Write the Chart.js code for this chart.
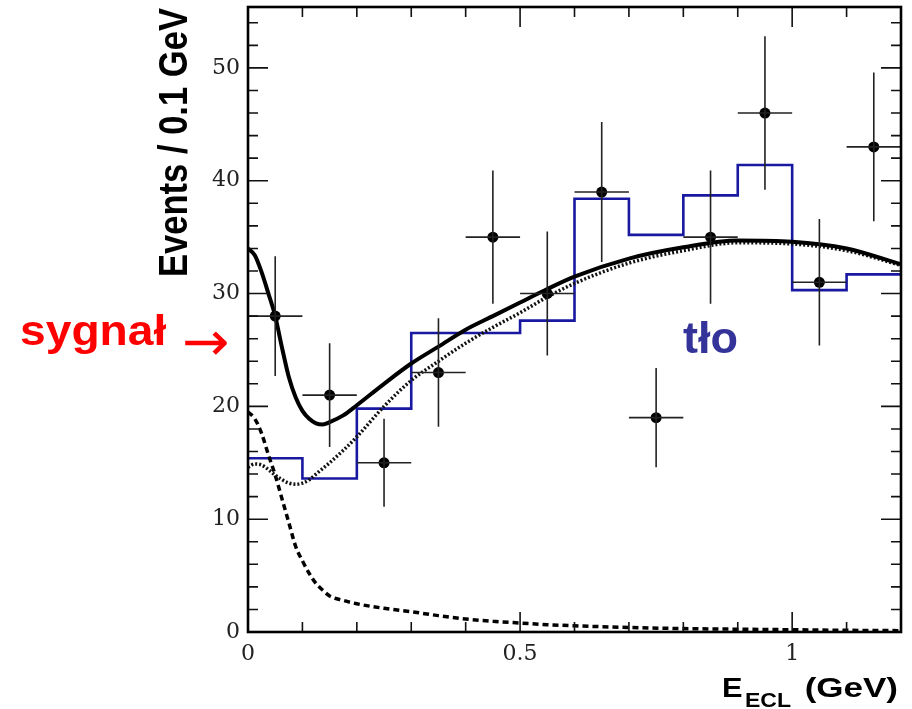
<!DOCTYPE html>
<html>
<head>
<meta charset="utf-8">
<script src="https://cdn.jsdelivr.net/npm/chart.js@4.4.1/dist/chart.umd.min.js"></script>
<style>
  html, body { margin: 0; padding: 0; background: #fff; }
</style>
</head>
<body>
<canvas id="chart" width="912" height="709"></canvas>
<script>
// DATA
const binEdges = [0, 0.1, 0.2, 0.3, 0.4, 0.5, 0.6, 0.7, 0.8, 0.9, 1.0, 1.1, 1.2];
const mcHist   = [15.4, 13.6, 19.8, 26.5, 26.5, 27.6, 38.4, 35.2, 38.7, 41.4, 30.3, 31.7];

const dataX   = [0.05, 0.15, 0.25, 0.35, 0.45, 0.55, 0.65, 0.75, 0.85, 0.95, 1.05, 1.15];
const dataY   = [28, 21, 15, 23, 35, 30, 39, 19, 35, 46, 31, 43];
const dataErr = [5.3, 4.6, 3.9, 4.8, 5.9, 5.5, 6.2, 4.4, 5.9, 6.8, 5.6, 6.6];
const binHalf = 0.05;

const curveX   = [0, 0.0125, 0.025, 0.0375, 0.05, 0.0625, 0.075, 0.0875, 0.1, 0.1125, 0.125, 0.1375,
                  0.15, 0.175, 0.2, 0.25, 0.3, 0.35, 0.4, 0.45, 0.5, 0.55, 0.6, 0.7, 0.8, 0.9, 1.0, 1.1, 1.2];
const totalFit = [34.0, 33.4, 31.9, 30.0, 28.0, 25.2, 22.6, 20.8, 19.6, 18.9, 18.5, 18.4,
                  18.6, 19.2, 20.1, 22.0, 23.8, 25.3, 26.8, 28.0, 29.2, 30.4, 31.5, 33.1, 34.1, 34.7, 34.6, 34.0, 32.6];
const bkgFit   = [14.6, 14.9, 14.8, 14.4, 13.9, 13.5, 13.2, 13.1, 13.2, 13.5, 14.0, 14.5,
                  15.0, 16.1, 17.3, 20.0, 22.3, 24.0, 25.6, 27.0, 28.3, 29.7, 30.9, 32.7, 33.8, 34.5, 34.4, 33.8, 32.5];
const sigFit   = [19.5, 18.9, 17.6, 15.7, 13.9, 11.8, 9.7, 7.6, 6.3, 5.2, 4.3, 3.7,
                  3.2, 2.8, 2.5, 2.1, 1.8, 1.45, 1.15, 0.95, 0.8, 0.65, 0.55, 0.4, 0.3, 0.25, 0.2, 0.15, 0.12];

const xTickLabels = [0, 0.5, 1];
const yTickLabels = [0, 10, 20, 30, 40, 50];

const pts = (xs, ys) => xs.map((x, i) => ({ x: x, y: ys[i] }));
// step line needs the last value repeated at the right edge
const histPts = binEdges.map((x, i) => ({ x: x, y: mcHist[Math.min(i, mcHist.length - 1)] }));

function stretchedText(ctx, txt, x, y, font, color, sx, align) {
  ctx.save();
  ctx.font = font;
  ctx.fillStyle = color;
  ctx.textAlign = align || 'left';
  ctx.textBaseline = 'alphabetic';
  ctx.translate(x, y);
  ctx.scale(sx, 1);
  ctx.fillText(txt, 0, 0);
  ctx.restore();
}

// error bars, frame with inward ticks, titles and labels
const decor = {
  id: 'decor',
  afterDatasetsDraw(chart) {
    const { ctx, chartArea: a, scales: { x, y } } = chart;
    ctx.save();
    ctx.beginPath();
    ctx.rect(a.left, a.top, a.right - a.left, a.bottom - a.top);
    ctx.clip();
    ctx.strokeStyle = '#222';
    ctx.lineWidth = 1.6;
    dataX.forEach((xv, i) => {
      const px = x.getPixelForValue(xv);
      const py = y.getPixelForValue(dataY[i]);
      ctx.beginPath();
      ctx.moveTo(px, y.getPixelForValue(dataY[i] - dataErr[i]));
      ctx.lineTo(px, y.getPixelForValue(dataY[i] + dataErr[i]));
      ctx.moveTo(x.getPixelForValue(xv - binHalf), py);
      ctx.lineTo(x.getPixelForValue(xv + binHalf), py);
      ctx.stroke();
    });
    ctx.restore();
  },
  afterDraw(chart) {
    const { ctx, chartArea: a, scales: { x, y } } = chart;
    ctx.save();
    ctx.strokeStyle = '#111';
    ctx.lineWidth = 1.6;
    ctx.beginPath();
    for (let i = 0; i <= 12; i++) {
      const px = x.getPixelForValue(i / 10);
      const len = i % 5 === 0 ? 20 : 10;
      ctx.moveTo(px, a.bottom); ctx.lineTo(px, a.bottom - len);
      ctx.moveTo(px, a.top); ctx.lineTo(px, a.top + len);
    }
    for (let v = 0; v <= 54; v += 2) {
      const py = y.getPixelForValue(v);
      const len = v % 10 === 0 ? 20 : 10;
      ctx.moveTo(a.left, py); ctx.lineTo(a.left + len, py);
      ctx.moveTo(a.right, py); ctx.lineTo(a.right - len, py);
    }
    ctx.stroke();
    ctx.lineWidth = 2.6;
    ctx.strokeStyle = '#000';
    ctx.strokeRect(a.left, a.top, a.right - a.left, a.bottom - a.top);
    ctx.restore();

    // y title
    ctx.save();
    ctx.translate(187, 8);
    ctx.rotate(-Math.PI / 2);
    ctx.scale(1, 1.17);
    ctx.font = "bold 34.6px 'Liberation Sans', Arial, sans-serif";
    ctx.fillStyle = '#000';
    ctx.textAlign = 'right';
    ctx.textBaseline = 'alphabetic';
    ctx.fillText('Events / 0.1 GeV', 0, 0);
    ctx.restore();

    // x title
    stretchedText(ctx, 'E', 722, 697, "bold 28px 'Liberation Sans', Arial, sans-serif", '#000', 1.1);
    stretchedText(ctx, 'ECL', 745, 707, "bold 20px 'Liberation Sans', Arial, sans-serif", '#000', 1.15);
    stretchedText(ctx, '(GeV)', 898, 697, "bold 28px 'Liberation Sans', Arial, sans-serif", '#000', 1.25, 'right');

    // annotations
    stretchedText(ctx, 'sygnał', 20, 345, "bold 42px 'Liberation Sans', Arial, sans-serif", '#ff0000', 1.1);
    stretchedText(ctx, '→', 182, 360, "54px 'DejaVu Sans', sans-serif", '#ff0000', 1.05);
    stretchedText(ctx, 'tło', 683, 353, "bold 45px 'Liberation Sans', Arial, sans-serif", '#333399', 1);
  }
};

new Chart(document.getElementById('chart'), {
  type: 'line',
  data: {
    datasets: [
      {
        type: 'scatter',
        data: pts(dataX, dataY),
        pointRadius: 5.5,
        pointBackgroundColor: '#000',
        pointBorderWidth: 0,
        showLine: false
      },
      {
        data: pts(curveX, totalFit),
        borderColor: '#000',
        borderWidth: 4,
        pointRadius: 0,
        cubicInterpolationMode: 'monotone'
      },
      {
        data: pts(curveX, bkgFit),
        borderColor: '#111',
        borderWidth: 3.5,
        borderDash: [2, 2],
        pointRadius: 0,
        cubicInterpolationMode: 'monotone'
      },
      {
        data: pts(curveX, sigFit),
        borderColor: '#000',
        borderWidth: 3.5,
        borderDash: [6, 4],
        pointRadius: 0,
        cubicInterpolationMode: 'monotone'
      },
      {
        data: histPts,
        borderColor: '#1818a0',
        borderWidth: 2.6,
        stepped: 'before',
        pointRadius: 0
      }
    ]
  },
  options: {
    responsive: false,
    animation: false,
    devicePixelRatio: 1,
    layout: { autoPadding: false, padding: { top: 7, right: 11, left: 0, bottom: 0 } },
    plugins: { legend: { display: false }, tooltip: { enabled: false } },
    scales: {
      x: {
        type: 'linear',
        min: 0,
        max: 1.2,
        grid: { display: false, drawTicks: false },
        border: { display: false },
        afterBuildTicks: s => { s.ticks = xTickLabels.map(v => ({ value: v })); },
        afterFit: s => { s.height = 77; s.paddingLeft = 0; s.paddingRight = 0; },
        ticks: {
          font: { family: "'DejaVu Serif', serif", size: 22 },
          color: '#222',
          padding: 9,
          maxRotation: 0,
          autoSkip: false,
          callback: v => String(v)
        }
      },
      y: {
        min: 0,
        max: 55.4,
        grid: { display: false, drawTicks: false },
        border: { display: false },
        afterBuildTicks: s => { s.ticks = yTickLabels.map(v => ({ value: v })); },
        afterFit: s => { s.width = 248; s.paddingTop = 0; s.paddingBottom = 0; },
        ticks: {
          font: { family: "'DejaVu Serif', serif", size: 22 },
          color: '#222',
          padding: 8
        }
      }
    }
  },
  plugins: [decor]
});
</script>
</body>
</html>
